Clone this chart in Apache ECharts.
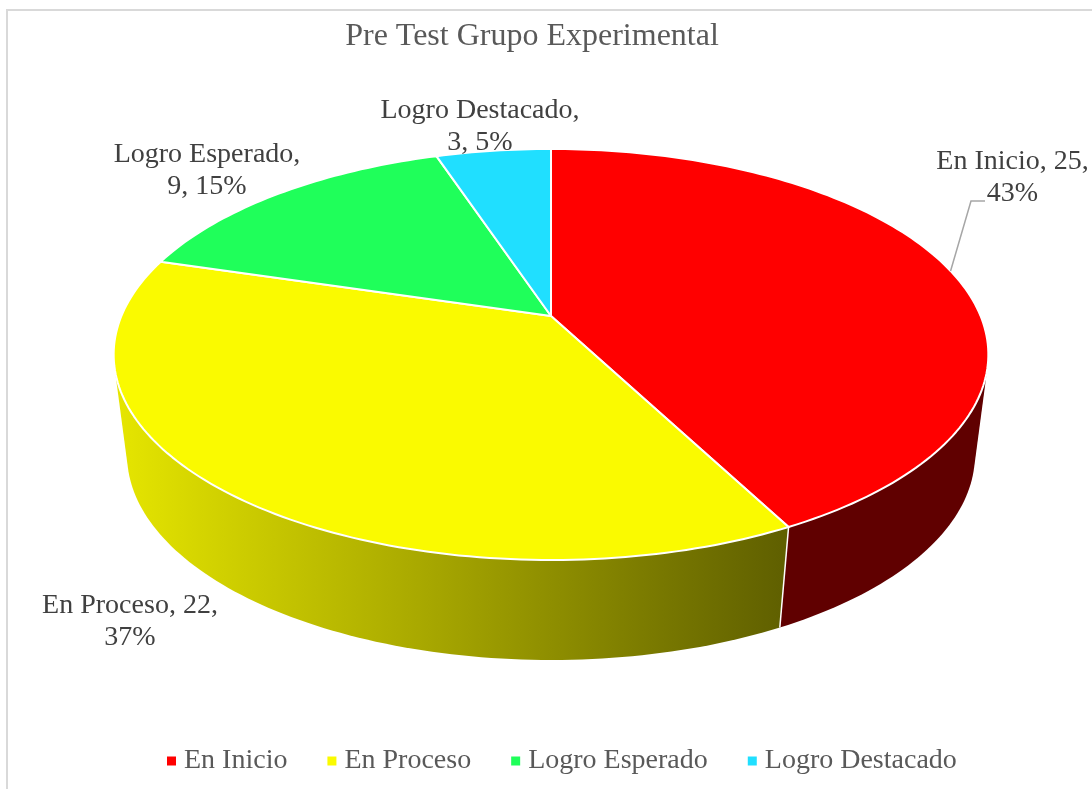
<!DOCTYPE html>
<html>
<head>
<meta charset="utf-8">
<title>Pre Test Grupo Experimental</title>
<script src="https://cdn.jsdelivr.net/npm/echarts@6/dist/echarts.min.js"></script>
<style>
  html, body { margin: 0; padding: 0; background: #fff; }
  #frame { position: absolute; left: 6px; top: 9px; right: -4px; bottom: -4px; border: 2px solid #d9d9d9; }
  #main { position: absolute; left: 0; top: 0; width: 1092px; height: 789px; }
</style>
</head>
<body>
<div id="frame"></div>
<div id="main"></div>
<script>
const chartTitle = 'Pre Test Grupo Experimental'
const categories = ['En Inicio', 'En Proceso', 'Logro Esperado', 'Logro Destacado']
const counts = [25, 22, 9, 3]
const percents = [43, 37, 15, 5]

const sliceColors = ['#ff0000', '#fafa00', '#1fff5a', '#20dfff']
const serifFont = '"Liberation Serif", "Times New Roman", serif'

// tapa y base del pastel en perspectiva
const topDisc = { cx: 551, cy: 316, a: 429.6, b: 198.3, tilt: 0.1873 }
const baseDisc = { cx: 551, cy: 418, a: 417, b: 198.4, tilt: 0.18 }

// posicion del texto de cada etiqueta
const labelPlace = [
  { x: 1012.5, y: 178 },
  { x: 130, y: 622 },
  { x: 207, y: 171 },
  { x: 480, y: 127 },
]
const labelBreak = [2, 2, 1, 1]

const total = counts.reduce((a, b) => a + b, 0)

function project(disc, angle) {
  let w = 1 + disc.tilt * Math.cos(angle)
  return [disc.cx + (disc.a * Math.sin(angle)) / w, disc.cy - (disc.b * Math.cos(angle)) / w]
}

function angles(start, end) {
  let list = []
  let n = Math.max(2, Math.ceil((end - start) / 0.02))
  for (let i = 0; i <= n; i++) {
    list.push(start + ((end - start) * i) / n)
  }
  return list
}

// envolvente convexa, da la silueta de la pared con sus tangentes rectas
function convexHull(points) {
  let pts = points.slice().sort((p, q) => p[0] - q[0] || p[1] - q[1])
  let cross = (o, p, q) => (p[0] - o[0]) * (q[1] - o[1]) - (p[1] - o[1]) * (q[0] - o[0])
  let half = (list) => {
    let out = []
    list.forEach((p) => {
      while (out.length > 1 && cross(out[out.length - 2], out[out.length - 1], p) <= 0) out.pop()
      out.push(p)
    })
    out.pop()
    return out
  }
  return half(pts).concat(half(pts.slice().reverse()))
}

function sideFill(index) {
  if (index === 0) return '#600000'
  return new echarts.graphic.LinearGradient(115, 0, 781, 0, [
    { offset: 0, color: '#e6e600' },
    { offset: 1, color: '#606000' },
  ], true)
}

function labelText(index) {
  let parts = [categories[index], counts[index], percents[index] + '%']
  let cut = labelBreak[index]
  return parts.slice(0, cut).join(', ') + ',\n' + parts.slice(cut).join(', ')
}

function renderSlice(index) {
  return function () {
    let before = counts.slice(0, index).reduce((a, b) => a + b, 0)
    let start = (before / total) * Math.PI * 2
    let end = ((before + counts[index]) / total) * Math.PI * 2
    let steps = angles(start, end)
    let children = []

    // pared lateral, solo la mitad del frente
    if (index < 2) {
      let front = angles(Math.max(start, Math.PI / 2), Math.min(end, (Math.PI * 3) / 2))
      let outline = front.map((t) => project(topDisc, t)).concat(front.map((t) => project(baseDisc, t)))
      children.push({
        type: 'polygon',
        z2: 1,
        shape: { points: convexHull(outline) },
        style: { fill: sideFill(index) },
      })
    }
    // separacion blanca entre las dos paredes
    if (index === 0) {
      children.push({
        type: 'line',
        z2: 3,
        shape: {
          x1: project(topDisc, end)[0],
          y1: project(topDisc, end)[1],
          x2: project(baseDisc, end)[0],
          y2: project(baseDisc, end)[1],
        },
        style: { stroke: '#fff', lineWidth: 1.5 },
      })
    }

    children.push({
      type: 'polygon',
      z2: 5,
      shape: { points: [[topDisc.cx, topDisc.cy]].concat(steps.map((t) => project(topDisc, t))) },
      style: { fill: sliceColors[index], stroke: '#fff', lineWidth: 2, lineJoin: 'round' },
    })

    if (index === 0) {
      let anchor = project(topDisc, (start + end) / 2)
      children.push({
        type: 'polyline',
        z2: 6,
        shape: { points: [anchor, [971, 201], [985, 201]] },
        style: { fill: null, stroke: '#a6a6a6', lineWidth: 1.5 },
      })
    }

    children.push({
      type: 'text',
      z2: 10,
      style: {
        x: labelPlace[index].x,
        y: labelPlace[index].y,
        text: labelText(index),
        align: 'center',
        verticalAlign: 'middle',
        font: '28px ' + serifFont,
        lineHeight: 32,
        fill: '#404040',
      },
    })
    return { type: 'group', children: children }
  }
}

const chart = echarts.init(document.getElementById('main'), null, { renderer: 'canvas' })

chart.setOption({
  animation: false,
  backgroundColor: 'transparent',
  title: {
    text: chartTitle,
    left: 527,
    top: 16,
    textAlign: 'center',
    textStyle: { color: '#595959', fontFamily: serifFont, fontSize: 32, fontWeight: 'normal' },
  },
  legend: {
    left: 162,
    top: 742,
    icon: 'rect',
    itemWidth: 9,
    itemHeight: 9,
    itemGap: 40,
    data: categories,
    selectedMode: false,
    textStyle: { color: '#595959', fontFamily: serifFont, fontSize: 28, padding: [0, 0, 0, 3] },
  },
  series: categories.map((name, i) => ({
    name: name,
    type: 'custom',
    coordinateSystem: 'none',
    silent: true,
    itemStyle: { color: sliceColors[i] },
    renderItem: renderSlice(i),
    data: [counts[i]],
  })),
})
</script>
</body>
</html>
